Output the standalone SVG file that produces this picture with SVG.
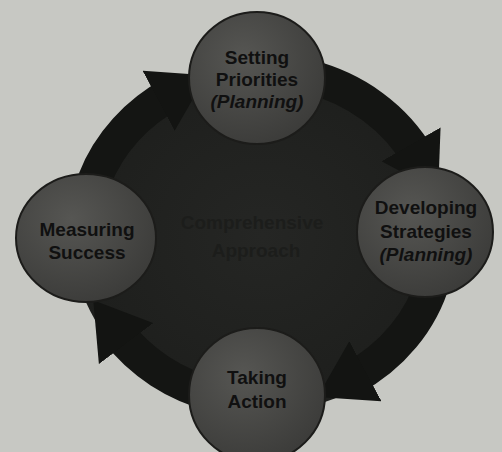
<svg xmlns="http://www.w3.org/2000/svg" width="502" height="452" viewBox="0 0 502 452">
  <defs>
    <radialGradient id="nodeFill" cx="0.4" cy="0.35" r="0.7">
      <stop offset="0" stop-color="#565653"/>
      <stop offset="1" stop-color="#3b3b39"/>
    </radialGradient>
    <radialGradient id="blobFill" cx="0.5" cy="0.5" r="0.6">
      <stop offset="0" stop-color="#252624"/>
      <stop offset="1" stop-color="#1c1d1b"/>
    </radialGradient>
    <marker id="head" viewBox="0 0 10 10" refX="3" refY="5" markerWidth="1.6" markerHeight="2" preserveAspectRatio="none" orient="auto">
      <path d="M0,0 L10,5 L0,10 z" fill="#131412"/>
    </marker>
    <style>
      .node { fill: url(#nodeFill); stroke: #1c1c1a; stroke-width: 2; }
      .lbl { font-family: "Liberation Sans", Arial, sans-serif; font-weight: bold; font-size: 19px; fill: #101010; text-anchor: middle; }
      .it { font-style: italic; }
      .ctr { font-family: "Liberation Sans", Arial, sans-serif; font-weight: bold; font-size: 19px; fill: #1c1d1b; text-anchor: middle; }
      .arc { fill: none; stroke: #141513; stroke-width: 34; marker-end: url(#head); }
    </style>
  </defs>
  <rect width="502" height="452" fill="#c7c8c3"/>
  <ellipse id="hub" cx="262" cy="236" rx="190" ry="176" fill="url(#blobFill)"/>
  <g id="connectors">
    <path class="arc" d="M94.7,179.6 A178,165 0 0 1 173,93.1"/>
    <path class="arc" d="M308.1,76.6 A178,165 0 0 1 419.2,158.5"/>
    <path class="arc" d="M433.9,278.7 A178,165 0 0 1 351,378.9"/>
    <path class="arc" d="M215.9,395.4 A178,165 0 0 1 116.2,330.6"/>
  </g>
  <g id="center-label">
    <text class="ctr" x="252" y="229">Comprehensive</text>
    <text class="ctr" x="256" y="257">Approach</text>
  </g>
  <g id="setting-priorities">
    <ellipse class="node" cx="257" cy="78" rx="68" ry="66"/>
    <text class="lbl" x="257" y="64">Setting</text>
    <text class="lbl" x="257" y="86">Priorities</text>
    <text class="lbl it" x="257" y="108">(Planning)</text>
  </g>
  <g id="developing-strategies">
    <ellipse class="node" cx="425" cy="232" rx="68" ry="65"/>
    <text class="lbl" x="426" y="214">Developing</text>
    <text class="lbl" x="426" y="238">Strategies</text>
    <text class="lbl it" x="426" y="261">(Planning)</text>
  </g>
  <g id="measuring-success">
    <ellipse class="node" cx="86" cy="238" rx="70" ry="64"/>
    <text class="lbl" x="87" y="236">Measuring</text>
    <text class="lbl" x="87" y="259">Success</text>
  </g>
  <g id="taking-action">
    <ellipse class="node" cx="257" cy="395" rx="68" ry="67"/>
    <text class="lbl" x="257" y="384">Taking</text>
    <text class="lbl" x="257" y="408">Action</text>
  </g>
</svg>
